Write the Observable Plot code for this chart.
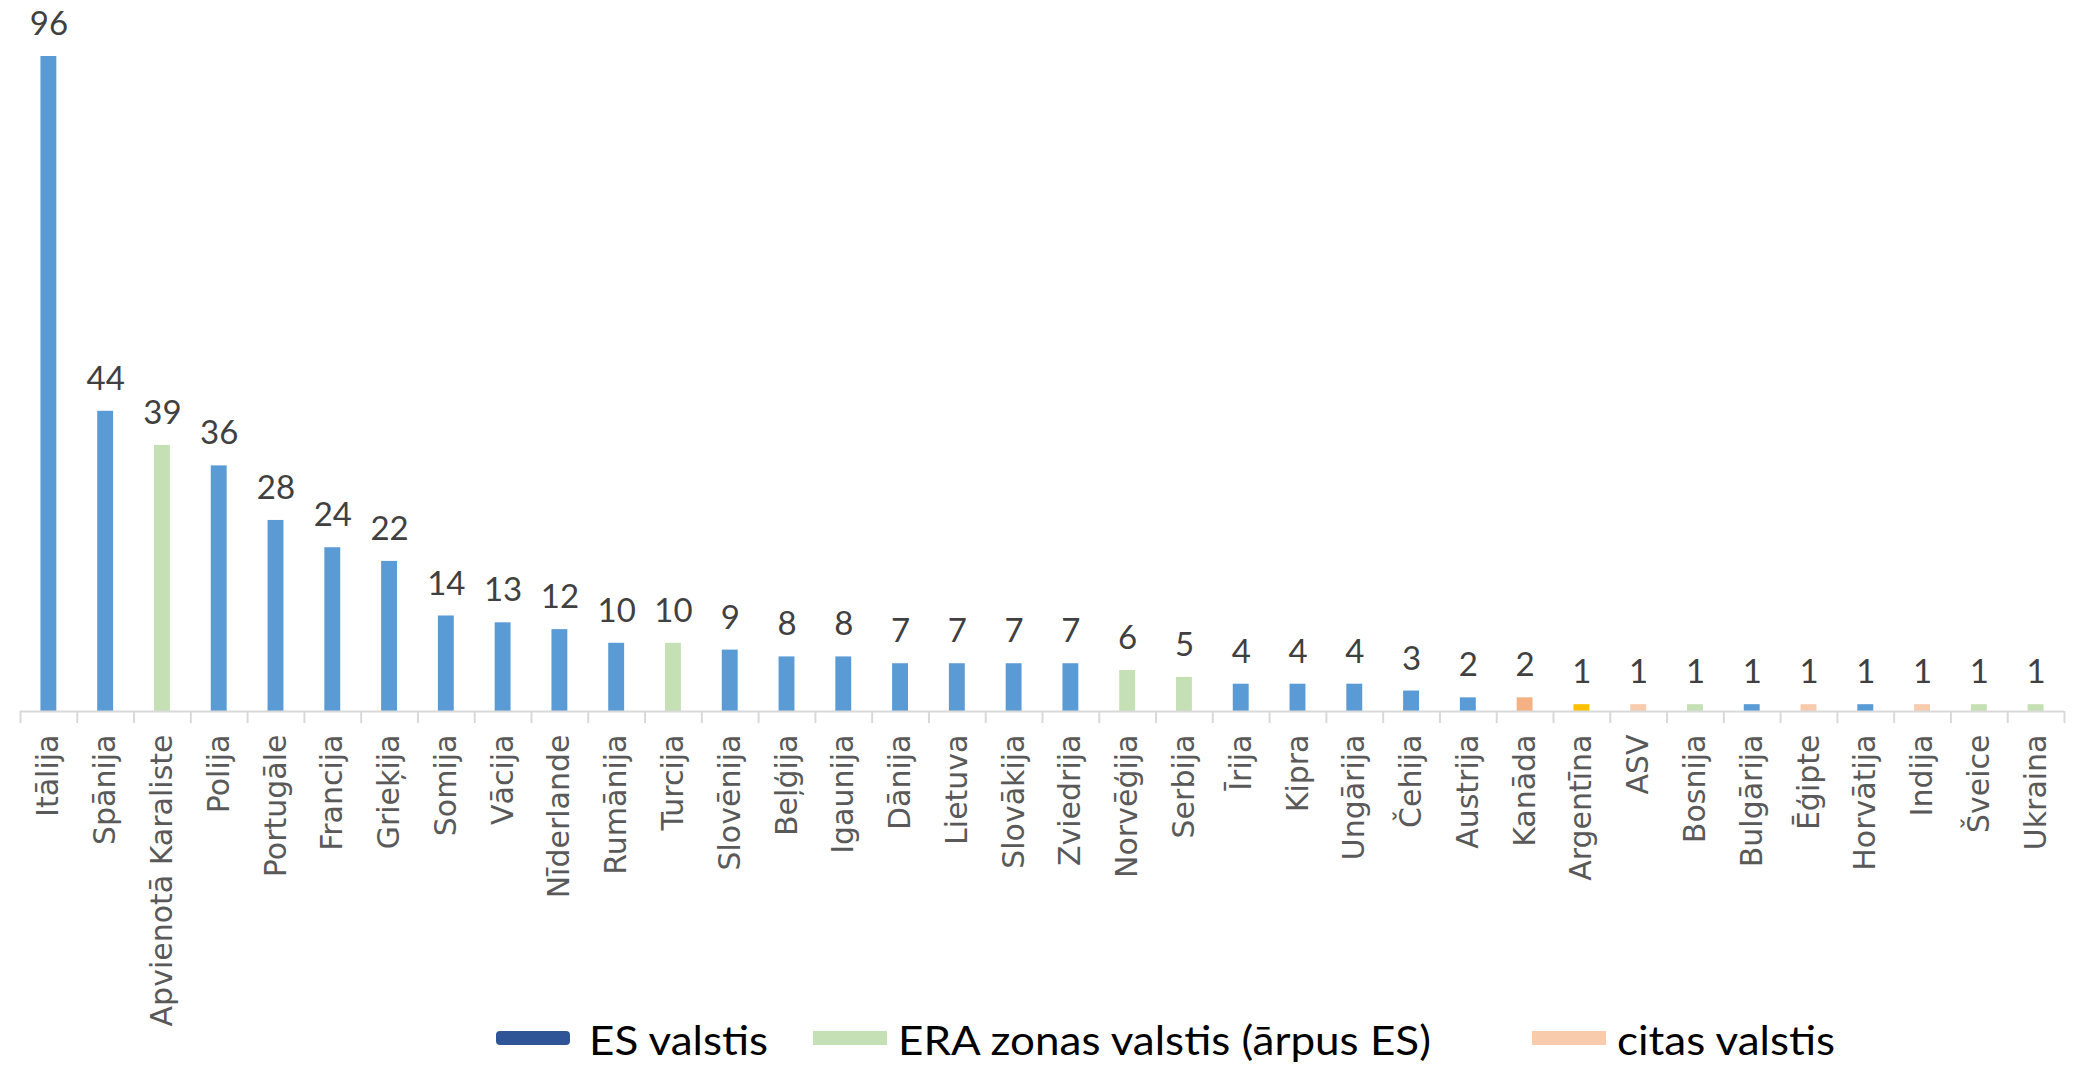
<!DOCTYPE html>
<html><head><meta charset="utf-8">
<script src="https://cdn.jsdelivr.net/npm/d3@7"></script>
<script src="https://cdn.jsdelivr.net/npm/@observablehq/plot@0.6"></script>
<style>
html,body{margin:0;padding:0;background:#fff;overflow:hidden;}
#wrap{position:relative;width:2081px;height:1067px;}
#chart svg{overflow:visible;}
#legend{position:absolute;left:0;top:1000px;width:2081px;height:67px;font-family:Lato,sans-serif;font-size:40px;color:#000;}
.sw{position:absolute;top:31px;width:74px;height:14px;}
.lt{position:absolute;top:20px;line-height:40px;white-space:nowrap;transform:scaleX(1.1);transform-origin:left center;}
</style></head><body><div id="wrap"><div id="chart"></div><div id="legend"></div></div>
<script>
const countries = ["Itālija","Spānija","Apvienotā Karaliste","Polija","Portugāle","Francija","Grieķija","Somija","Vācija","Nīderlande","Rumānija","Turcija","Slovēnija","Beļģija","Igaunija","Dānija","Lietuva","Slovākija","Zviedrija","Norvēģija","Serbija","Īrija","Kipra","Ungārija","Čehija","Austrija","Kanāda","Argentīna","ASV","Bosnija","Bulgārija","Ēģipte","Horvātija","Indija","Šveice","Ukraina"];
const values = [96,44,39,36,28,24,22,14,13,12,10,10,9,8,8,7,7,7,7,6,5,4,4,4,3,2,2,1,1,1,1,1,1,1,1,1];
const groups = ["ES","ES","ERA","ES","ES","ES","ES","ES","ES","ES","ES","ERA","ES","ES","ES","ES","ES","ES","ES","ERA","ERA","ES","ES","ES","ES","ES","citas-2","citas-3","citas","ERA","ES","citas","ES","citas","ERA","ERA"];
const legendLabels = ["ES valstis","ERA zonas valstis (ārpus ES)","citas valstis"];

const data = countries.map((c,i)=>({country:c, value:values[i], group:groups[i]}));

const W = 2081, H = 1000, mL = 20, mR = 17, mT = 56, mB = 289;
const step = (W - mL - mR) / countries.length;

const chart = Plot.plot({
  width: W, height: H,
  marginLeft: mL, marginRight: mR, marginTop: mT, marginBottom: mB,
  x: {domain: countries, paddingInner: 0.72, paddingOuter: 0.36, round: false, axis: null},
  y: {domain: [0, 96], axis: null},
  color: {domain: ["ES","ERA","citas","citas-2","citas-3"], range: ["#5b9bd5","#c5e0b4","#f8cbad","#f4b183","#ffc000"]},
  style: {background: "#fff", overflow: "visible", fontFamily: "DejaVu Sans"},
  marks: [
    Plot.barY(data, {x: "country", y: "value", fill: "group"}),
    Plot.ruleY([0], {stroke: "#d9d9d9", strokeWidth: 2}),
    Plot.ruleX(countries, {x: d => d, y1: 0, y2: 0, insetBottom: -12, dx: -step/2, stroke: "#d9d9d9", strokeWidth: 2}),
    Plot.ruleX(countries.slice(-1), {x: d => d, y1: 0, y2: 0, insetBottom: -12, dx: step/2, stroke: "#d9d9d9", strokeWidth: 2}),
    Plot.text(data, {x: "country", y: "value", text: d => String(d.value), dy: -32, fill: "#404040", fontSize: 33, fontFamily: "Lato"}),
    Plot.axisX({tickRotate: -90, tickSize: 0, tickPadding: 23, fontSize: 30, fontFamily: "DejaVu Sans", color: "#595959", label: null})
  ]
});
document.getElementById("chart").appendChild(chart);

const lg = document.getElementById("legend");
const legendColors = ["#2f5597","#c5e0b4","#f8cbad"];
const swLeft = [496, 813, 1532];
const txLeft = [589, 898, 1617];
legendLabels.forEach((t,i)=>{
  const s = document.createElement("div"); s.className="sw"; s.style.left=swLeft[i]+"px"; s.style.background=legendColors[i];
  if(i===0) s.style.borderRadius="4px";
  lg.appendChild(s);
  const l = document.createElement("div"); l.className="lt"; l.style.left=txLeft[i]+"px"; l.textContent=t;
  lg.appendChild(l);
});
</script></body></html>
